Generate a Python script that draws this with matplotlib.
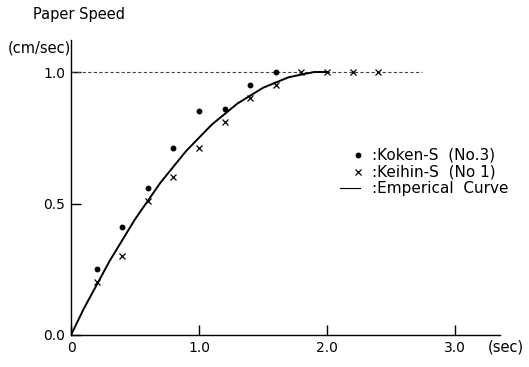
import matplotlib
matplotlib.use("Agg")
import matplotlib.pyplot as plt

# values
koken_t = [0.2, 0.4, 0.6, 0.8, 1.0, 1.2, 1.4, 1.6]
koken_v = [0.25, 0.41, 0.56, 0.71, 0.85, 0.86, 0.95, 1.0]
keihin_t = [0.2, 0.4, 0.6, 0.8, 1.0, 1.2, 1.4, 1.6, 1.8, 2.0, 2.2, 2.4]
keihin_v = [0.2, 0.3, 0.51, 0.6, 0.71, 0.81, 0.9, 0.95, 1.0, 1.0, 1.0, 1.0]
curve_t = [0.0, 0.1, 0.2, 0.3, 0.4, 0.5, 0.6, 0.7, 0.8, 0.9, 1.0,
           1.1, 1.2, 1.3, 1.4, 1.5, 1.6, 1.7, 1.8, 1.9, 2.0]
curve_v = [0.0, 0.10, 0.19, 0.28, 0.36, 0.44, 0.51, 0.58, 0.64, 0.70, 0.75,
           0.80, 0.84, 0.88, 0.91, 0.94, 0.96, 0.98, 0.99, 1.0, 1.0]
ref_t = [0.0, 2.74]
ref_v = [1.0, 1.0]
x_ticks = [0, 1.0, 2.0, 3.0]
x_labels = ["0", "1.0", "2.0", "3.0"]
y_ticks = [0.0, 0.5, 1.0]
y_labels = ["0.0", "0.5", "1.0"]

W, H = 529, 367
fig = plt.figure(figsize=(W / 100, H / 100), dpi=100)
# axes placed in pixel terms: x=0 at 71px, y=0 at 335px
left, bottom = 71, H - 335
xmax, ymax = 3.35, 1.12
ax = fig.add_axes([left / W, bottom / H, xmax * 128 / W, ymax * 263 / H])
ax.set_xlim(0, xmax)
ax.set_ylim(0, ymax)

ax.plot(ref_t, ref_v, linestyle=(0, (3, 2)), color="#444444", linewidth=0.8)
ax.plot(curve_t, curve_v, color="black", linewidth=1.4)
ax.plot(koken_t, koken_v, linestyle="none", marker="o", color="black", markersize=3.2)
ax.plot(keihin_t, keihin_v, linestyle="none", marker="x", color="black",
        markersize=4.5, markeredgewidth=0.9)

for s in ["top", "right"]:
    ax.spines[s].set_visible(False)
for s in ["left", "bottom"]:
    ax.spines[s].set_linewidth(1.0)

ax.set_xticks(x_ticks)
ax.set_xticklabels(x_labels)
ax.set_yticks(y_ticks)
ax.set_yticklabels(y_labels)
ax.tick_params(direction="in", length=7, width=1.0, labelsize=10, pad=4)

fs = 11
fig.text(33 / W, 1 - 15 / H, "Paper Speed", fontsize=10.5, va="center", ha="left")
fig.text(8 / W, 1 - 48 / H, "(cm/sec)", fontsize=10.5, va="center", ha="left")
fig.text(488 / W, 1 - 347 / H, "(sec)", fontsize=10.5, va="center", ha="left")

# legend drawn by hand like the original
ax.plot([2.24], [(335 - 155) / 263], marker="o", color="black", markersize=3.2,
        linestyle="none")
ax.plot([2.24], [(335 - 172) / 263], marker="x", color="black", markersize=4.5,
        markeredgewidth=0.9, linestyle="none")
ax.plot([2.1, 2.26], [(335 - 188) / 263] * 2, color="black", linewidth=0.8)
legend_labels = [":Koken-S  (No.3)", ":Keihin-S  (No 1)", ":Emperical  Curve"]
for i, lab in enumerate(legend_labels):
    ax.text(2.35, (335 - 155 - i * 16.5) / 263, lab, fontsize=fs, va="center", ha="left")

fig.savefig("out.png", dpi=100)
